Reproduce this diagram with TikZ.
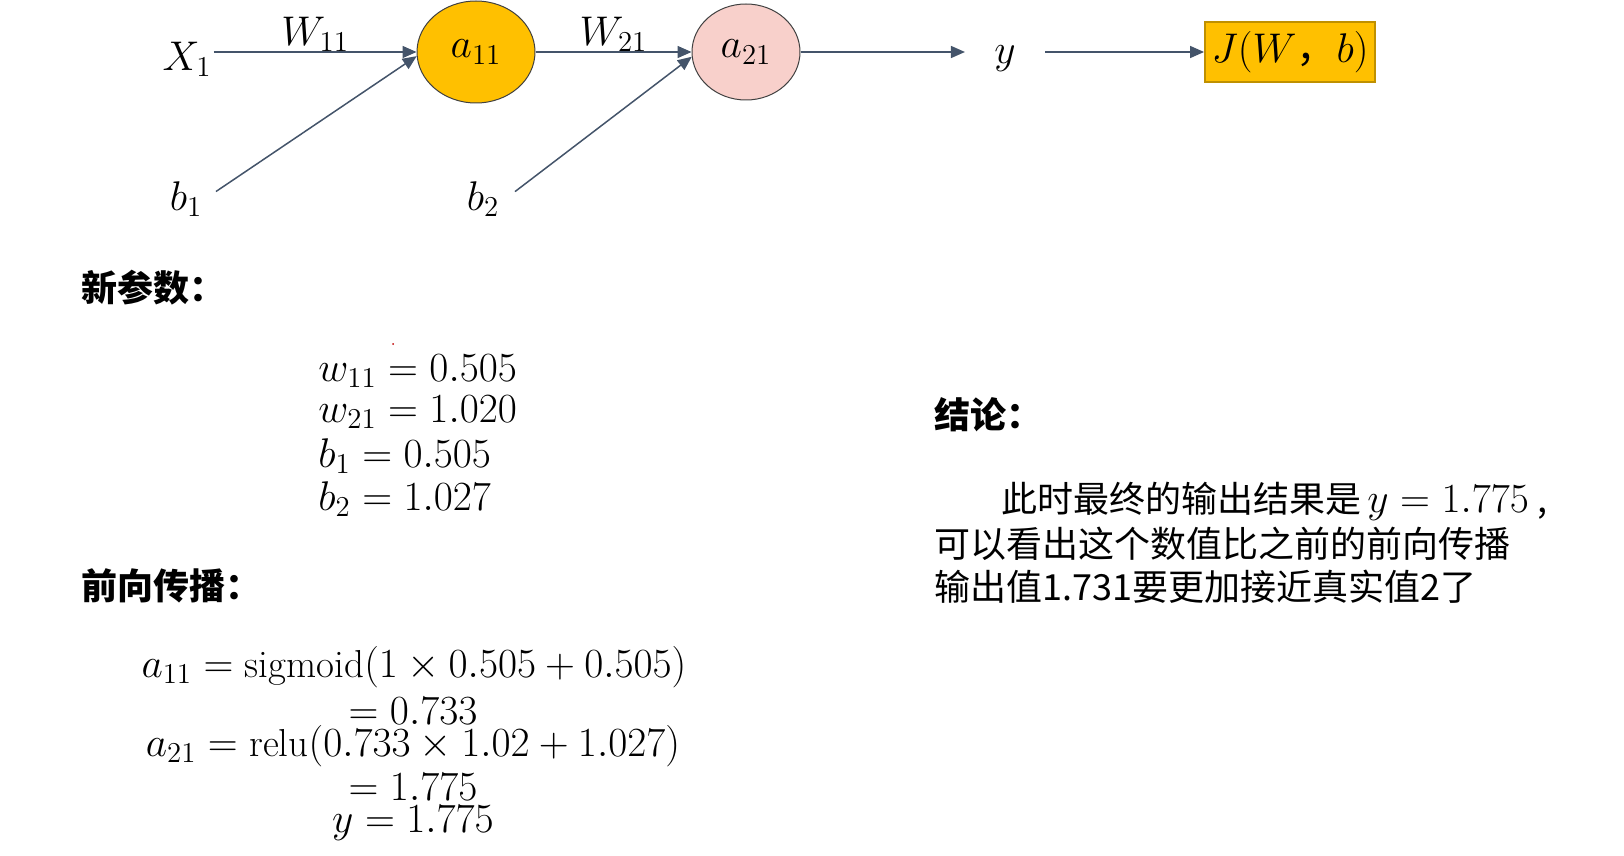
\documentclass[tikz,border=0pt]{standalone}
\usepackage{fontspec}
\newfontfamily\cjk{Noto Sans CJK SC}
\usetikzlibrary{arrows.meta,shapes.geometric}
\definecolor{slate}{HTML}{44546A}
\definecolor{gold}{HTML}{FFC000}
\definecolor{golddark}{HTML}{BF9000}
\definecolor{rose}{HTML}{F8D0CB}
\begin{document}
\begin{tikzpicture}[x=0.5pt,y=-0.5pt,
  mathlab/.style={font=\fontsize{20}{24}\selectfont,inner sep=1pt},
  neuron/.style={ellipse,draw=black!75,line width=0.5pt,inner sep=0pt,font=\fontsize{20}{24}\selectfont},
  arr/.style={-{Triangle[length=7pt,width=6pt]},draw=slate,fill=slate,line width=0.75pt},
  head/.style={anchor=west,font=\fontsize{18}{21}\selectfont\cjk\bfseries,inner sep=0pt},
  para/.style={anchor=west,font=\fontsize{18}{22}\selectfont\cjk,inner sep=0pt},
  eqn/.style={font=\fontsize{19.5}{23}\selectfont,inner sep=0pt}]
\useasboundingbox (0,0) rectangle (1624,856);
% network
\node[mathlab] (x1) at (187,59) {$X_1$};
\node[mathlab,inner xsep=6.7pt] (b1) at (186,199) {$b_1$};
\node[mathlab,inner xsep=7.7pt] (b2) at (483,199) {$b_2$};
\node[neuron,fill=gold,minimum width=59pt,minimum height=51pt] (a11) at (476,52) {$a_{11}$};
\node[neuron,fill=rose,minimum width=54pt,minimum height=48pt] (a21) at (746,52) {$a_{21}$};
\node[mathlab,inner xsep=14.5pt] (yout) at (1005,59) {$y$};
\node[draw=golddark,fill=gold,line width=0.8pt,minimum width=76pt,minimum height=30pt,
  font=\fontsize{20}{24}\selectfont] (cost) at (1290,52) {$J(W$\cjk，$b)$};
\draw[arr] (x1.east |- a11.west) -- node[mathlab,above=-1pt] (w11) {$W_{11}$} (a11.west);
\draw[arr] (b1.14) -- (a11.184);
\draw[arr] (a11.east) -- node[mathlab,above=-1pt] (w21) {$W_{21}$} (a21.west);
\draw[arr] (b2.13) -- (a21.185);
\draw[arr] (a21.east) -- (a21.east -| yout.west);
\draw[arr] (yout.east |- cost.west) -- (cost.west);
% new parameters
\node[head] (newpar) at (81,288) {新参数：};
\fill[red!75!black] (393,344) circle (1);
\foreach \i/\lab/\yy in {1/{w_{11} = 0.505}/371,2/{w_{21} = 1.020}/412,3/{b_1 = 0.505}/456,4/{b_2 = 1.027}/499}{
  \node[eqn,anchor=west] (par\i) at (318,\yy) {$\lab$};
}
% forward pass
\node[head] (fwd) at (81,586) {前向传播：};
\node[eqn] (eqa) at (414,667) {$a_{11} = \mathrm{sigmoid}(1 \times 0.505 + 0.505)$};
\node[eqn] (eqb) at (413,711) {$= 0.733$};
\node[eqn] (eqc) at (413,746) {$a_{21} = \mathrm{relu}(0.733 \times 1.02 + 1.027)$};
\node[eqn] (eqd) at (413,787) {$= 1.775$};
\node[eqn] (eqe) at (413,823) {$y = 1.775$};
% conclusion
\node[head] (concl) at (934,415) {结论：};
\node[para] (line1) at (1001,501) {此时最终的输出结果是\,{\fontsize{20}{24}\selectfont$y = 1.775$}\ ,};
\node[para] (line2) at (934,544) {可以看出这个数值比之前的前向传播};
\node[para] (line3) at (934,587) {输出值1.731要更加接近真实值2了};
\end{tikzpicture}
\end{document}
